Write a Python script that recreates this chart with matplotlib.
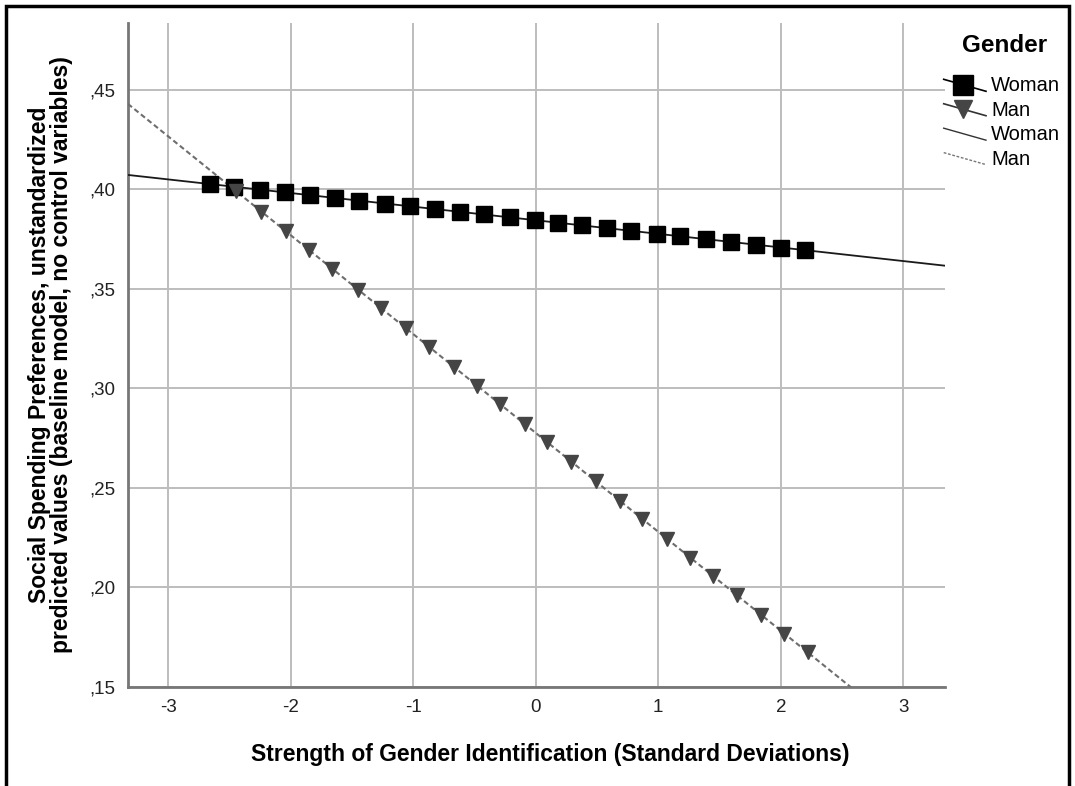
import numpy as np
import matplotlib
matplotlib.use("Agg")
import matplotlib.pyplot as plt
from matplotlib.lines import Line2D
from matplotlib.legend_handler import HandlerLine2D
from matplotlib.patches import Rectangle

plt.rcParams['font.family'] = ['Liberation Sans', 'DejaVu Sans']

# predicted values
woman_x = [-2.66, -2.46, -2.25, -2.05, -1.84, -1.64, -1.44, -1.23, -1.03, -0.82,
           -0.62, -0.42, -0.21, -0.01, 0.18, 0.38, 0.58, 0.78, 0.99, 1.18,
           1.39, 1.59, 1.80, 2.00, 2.20]
woman_y = [0.4027, 0.4013, 0.3999, 0.3985, 0.3971, 0.3957, 0.3943, 0.3929, 0.3915, 0.3901,
           0.3887, 0.3874, 0.3859, 0.3846, 0.3833, 0.3819, 0.3805, 0.3792, 0.3777, 0.3764,
           0.3750, 0.3736, 0.3722, 0.3708, 0.3695]
man_x = [-2.45, -2.24, -2.04, -1.85, -1.66, -1.45, -1.26, -1.06, -0.87, -0.67,
         -0.48, -0.29, -0.09, 0.09, 0.29, 0.49, 0.69, 0.87, 1.07, 1.26,
         1.45, 1.64, 1.84, 2.03, 2.22]
man_y = [0.3993, 0.3888, 0.3789, 0.3695, 0.3600, 0.3496, 0.3402, 0.3302, 0.3208, 0.3109,
         0.3014, 0.2920, 0.2821, 0.2731, 0.2632, 0.2533, 0.2433, 0.2344, 0.2245, 0.2150,
         0.2056, 0.1962, 0.1862, 0.1768, 0.1674]

x_ticks = [-3, -2, -1, 0, 1, 2, 3]
y_ticks = [0.15, 0.20, 0.25, 0.30, 0.35, 0.40, 0.45]
y_tick_labels = [',15', ',20', ',25', ',30', ',35', ',40', ',45']

XLIM = (-3.33, 3.34)
YLIM = (0.15, 0.4837)


class SlantHandler(HandlerLine2D):
    # SPSS draws the legend line as a short diagonal
    def create_artists(self, legend, orig_handle, xdescent, ydescent,
                       width, height, fontsize, trans):
        xs = [-xdescent, -xdescent + width]
        ys = [height * 0.85 - ydescent, height * 0.0 - ydescent]
        line = Line2D(xs, ys)
        self.update_prop(line, orig_handle, legend)
        line.set_marker('')
        line.set_transform(trans)
        artists = [line]
        if orig_handle.get_marker() not in ('', 'None', None):
            mk = Line2D([xs[0] + width * 0.45], [height * 0.45 - ydescent])
            self.update_prop(mk, orig_handle, legend)
            mk.set_linestyle('')
            mk.set_transform(trans)
            artists.append(mk)
        return artists


fig = plt.figure(figsize=(10.75, 7.86), dpi=100, facecolor='white')
ax = fig.add_axes([0.119, 0.126, 0.760, 0.845])

ax.grid(True, color='#bdbdbd', lw=1.4)
ax.set_axisbelow(True)

xx = np.array(XLIM)
cw = np.polyfit(woman_x, woman_y, 1)
cm = np.polyfit(man_x, man_y, 1)
ax.plot(xx, np.polyval(cw, xx), color='#1a1a1a', lw=1.3, zorder=3)
ax.plot(xx, np.polyval(cm, xx), color='#6e6e6e', lw=1.5, ls=(0, (2.5, 1.5)), zorder=3)

ax.plot(woman_x, woman_y, ls='', marker='s', ms=11, color='black', zorder=4)
ax.plot(man_x, man_y, ls='', marker='v', ms=9.5, color='#454545', zorder=4)

ax.set_xlim(*XLIM)
ax.set_ylim(*YLIM)
ax.set_xticks(x_ticks)
ax.set_xticklabels([str(t) for t in x_ticks])
ax.set_yticks(y_ticks)
ax.set_yticklabels(y_tick_labels)
ax.tick_params(length=0, labelsize=13.5, colors='#222222', pad=9)

for s in ['top', 'right']:
    ax.spines[s].set_visible(False)
for s in ['left', 'bottom']:
    ax.spines[s].set_color('#777777')
    ax.spines[s].set_linewidth(2)

ax.set_xlabel('Strength of Gender Identification (Standard Deviations)',
              fontsize=16.5, fontweight='bold', labelpad=22)
ax.xaxis.set_label_coords(0.517, -0.085)
ax.set_ylabel('Social Spending Preferences, unstandardized\npredicted values (baseline model, no control variables)',
              fontsize=16.5, fontweight='bold', labelpad=12, linespacing=0.95)

handles = [
    Line2D([], [], color='black', lw=1.2, marker='s', ms=14, markerfacecolor='black'),
    Line2D([], [], color='#333333', lw=1.2, marker='v', ms=13, markerfacecolor='#454545',
           markeredgecolor='#454545'),
    Line2D([], [], color='#333333', lw=1.0),
    Line2D([], [], color='#777777', lw=1.0, ls=(0, (2, 1.2))),
]
leg = fig.legend(handles, ['Woman', 'Man', 'Woman', 'Man'],
                 loc='upper left', bbox_to_anchor=(0.861, 0.926), frameon=False,
                 fontsize=14.5, handlelength=2.1, handletextpad=0.25, labelspacing=0.27,
                 handler_map={Line2D: SlantHandler()})
fig.text(1005 / 1075, 1 - 45 / 786, 'Gender', fontsize=17.5, fontweight='bold',
         ha='center', va='center')

fig.patches.append(Rectangle((6 / 1075, -0.01), 1063 / 1075, 1.01 - 6 / 786,
                             transform=fig.transFigure, fill=False,
                             edgecolor='black', lw=2.5))

fig.savefig('out.png', dpi=100)
